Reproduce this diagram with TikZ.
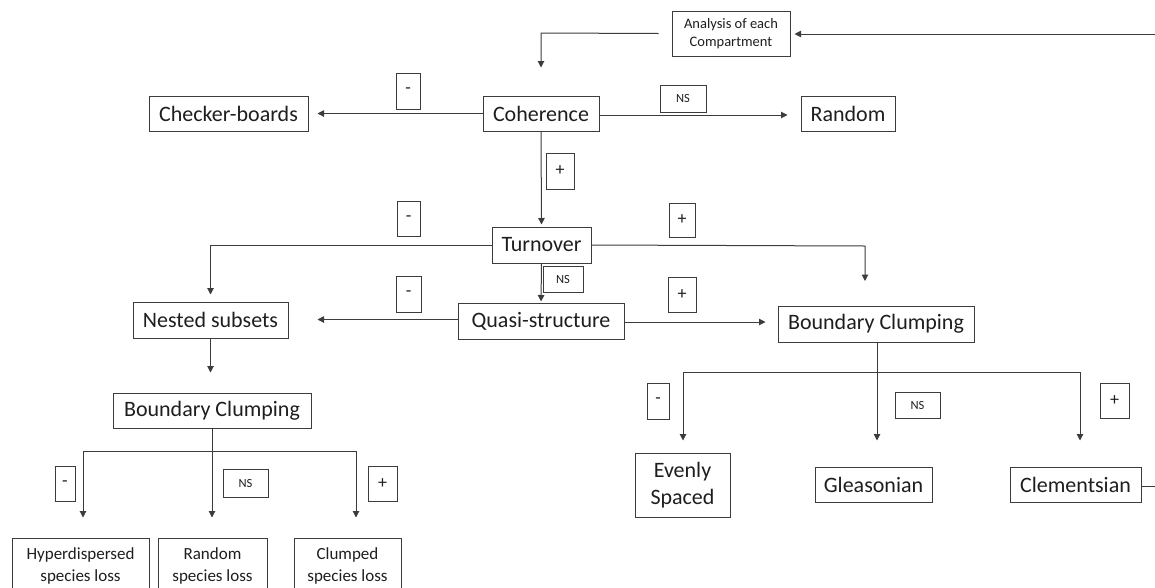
\documentclass[tikz,border=0pt]{standalone}
\usepackage{fontspec}
\setmainfont{Carlito}
\usetikzlibrary{arrows.meta}
\definecolor{ln}{HTML}{3C3C3C}
\definecolor{tx}{HTML}{1E1E1E}
\tikzset{
  box/.style={draw=ln, line width=1pt, inner sep=0pt, text=tx, align=center, font=\fontsize{22}{27}\selectfont},
  small/.style={box, font=\fontsize{17}{22}\selectfont},
  tiny/.style={box, font=\fontsize{14.5}{18}\selectfont},
  lab/.style={draw=ln, line width=0.9pt, inner sep=0pt, text=tx, font=\fontsize{18}{20}\selectfont},
  nslab/.style={lab, font=\fontsize{12.5}{14}\selectfont},
  conn/.style={draw=ln, line width=1pt},
  arr/.style={conn, -{Triangle[length=6.5pt,width=6.5pt]}}
}
\begin{document}
\begin{tikzpicture}[x=1pt,y=-1pt]
\useasboundingbox (0,0) rectangle (1155,587);
% main nodes
\node[tiny, minimum width=118, minimum height=45] (ana) at (731,33.5) {Analysis of each\\Compartment};
\node[box, minimum width=116, minimum height=35] (coh) at (541,113.5) {Coherence};
\node[box, minimum width=159, minimum height=35] (chk) at (228.5,113.5) {Checker-boards};
\node[box, minimum width=94, minimum height=35] (rnd) at (848,113.5) {Random};
\node[box, minimum width=99, minimum height=36] (turn) at (541.5,245) {Turnover};
\node[box, minimum width=155, minimum height=36] (nest) at (210.5,320) {Nested subsets};
\node[box, minimum width=166, minimum height=36] (quasi) at (541,321) {Quasi-structure};
\node[box, minimum width=196, minimum height=36] (bcr) at (876,324) {Boundary Clumping};
\node[box, minimum width=198, minimum height=35] (bcl) at (212,410.5) {Boundary Clumping};
\node[small, minimum width=137, minimum height=56] (hyp) at (80.5,566) {Hyperdispersed\\species loss};
\node[small, minimum width=109, minimum height=56] (rsl) at (212.5,566) {Random\\species loss};
\node[small, minimum width=107, minimum height=56] (csl) at (347.5,566) {Clumped\\species loss};
\node[box, minimum width=95, minimum height=64] (even) at (682.5,485) {Evenly\\Spaced};
\node[box, minimum width=117, minimum height=35] (glea) at (873.5,484.5) {Gleasonian};
\node[box, minimum width=131, minimum height=35] (clem) at (1075.5,484.5) {Clementsian};
% sign labels
\node[lab, minimum width=24, minimum height=36] (m1) at (408,91) {-};
\node[nslab, minimum width=46, minimum height=27] (ns1) at (683,98.5) {NS};
\node[lab, minimum width=28, minimum height=36] (p1) at (560,171) {+};
\node[lab, minimum width=23, minimum height=35] (m2) at (408.5,218.5) {-};
\node[lab, minimum width=26, minimum height=34] (p2) at (682,220) {+};
\node[nslab, minimum width=40, minimum height=26] (ns2) at (563,279) {NS};
\node[lab, minimum width=25, minimum height=36] (m3) at (408.5,294) {-};
\node[lab, minimum width=28, minimum height=35] (p3) at (682,294.5) {+};
\node[lab, minimum width=20, minimum height=35] (m4) at (65,483.5) {-};
\node[nslab, minimum width=45, minimum height=28] (ns4) at (245.5,483) {NS};
\node[lab, minimum width=29, minimum height=35] (p4) at (382.5,483.5) {+};
\node[lab, minimum width=22, minimum height=36] (m5) at (658,401) {-};
\node[nslab, minimum width=45, minimum height=26] (ns5) at (917.5,405) {NS};
\node[lab, minimum width=29, minimum height=35] (p5) at (1114.5,400.5) {+};
% coordinates
\coordinate (cohin) at (541,33);
\coordinate (trr) at (865,246);
\coordinate (trrend) at (865,281);
\coordinate (jla) at (83,451);
\coordinate (jlc) at (356,451);
\coordinate (jra) at (683,372);
\coordinate (jrc) at (1080,372);
\coordinate (loopa) at (1170,486);
\coordinate (loopb) at (1170,34);
% connectors
\draw[arr, shorten >=28pt] ([xshift=-13pt]ana.west) -- (cohin) -- (cohin |- coh.north);
\draw[arr] (clem.east |- loopa) -- (loopa) -- (loopb) -- ([xshift=4pt]ana.east |- loopb);
\draw[arr, shorten >=9pt] (coh.west) -- (chk.east);
\draw[arr, shorten >=13pt] ([yshift=-1.5pt]coh.east) -- ([yshift=-1.5pt]rnd.west);
\draw[arr, shorten >=2pt] (coh.south) -- (turn.north);
\draw[arr, shorten >=7pt] (turn.west) -| (nest.north);
\draw[arr] (turn.east) -- (trr) -- (trrend);
\draw[arr, shorten >=1pt] (turn.south) -- (quasi.north);
\draw[arr, shorten >=29pt] ([yshift=1.5pt]quasi.west) -- ([yshift=1.5pt]quasi.west -| nest.east);
\draw[arr, shorten >=12pt] ([yshift=-1pt]quasi.east) -- ([yshift=-1pt]quasi.east -| bcr.west);
\draw[arr, shorten >=20pt] (nest.south) -- (nest.south |- bcl.north);
% left bottom branch
\draw[conn] (jla) -- (jlc);
\draw[arr, shorten >=20pt] (jla) -- (jla |- hyp.north);
\draw[arr, shorten >=20pt] (bcl.south) -- (bcl.south |- rsl.north);
\draw[arr, shorten >=20pt] (jlc) -- (jlc |- csl.north);
% right bottom branch
\draw[conn] (jra) -- (jrc);
\draw[arr, shorten >=12pt] (jra) -- (jra |- even.north);
\draw[arr, shorten >=26pt] ([xshift=1pt]bcr.south) -- ([xshift=1pt]bcr.south |- glea.north);
\draw[arr, shorten >=26pt] (jrc) -- (jrc |- clem.north);
\end{tikzpicture}
\end{document}
